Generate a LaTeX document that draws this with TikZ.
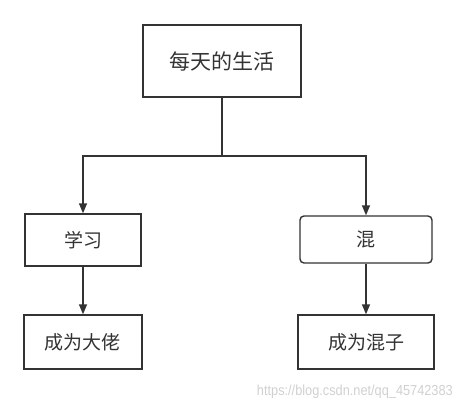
\documentclass[tikz,border=0pt]{standalone}
\usepackage{fontspec}
\setmainfont{Liberation Sans}
\newfontfamily\cjk{Noto Sans CJK SC}
\usetikzlibrary{arrows.meta}
\definecolor{ln}{HTML}{333333}
\definecolor{wm}{HTML}{D0D0D0}
\tikzset{
  box/.style={draw=ln, line width=1.4pt, fill=white, inner sep=0pt, font=\cjk\fontsize{19}{19}\selectfont, text=ln},
  conn/.style={draw=ln, line width=1.4pt},
  arr/.style={conn, -{Triangle[length=10pt,width=8pt]}},
}
\begin{document}
\begin{tikzpicture}[x=1pt,y=-1pt]
\useasboundingbox (0,0) rectangle (464,407);
\node[box, minimum width=158pt, minimum height=72pt, font=\cjk\fontsize{21}{21}\selectfont] (top) at (222,61) {每天的生活};
\node[box, minimum width=116pt, minimum height=52pt] (xue) at (83,240) {学习};
\node[box, minimum width=118pt, minimum height=54pt] (dalao) at (83,342) {成为大佬};
\node[box, rounded corners=4pt, minimum width=132pt, minimum height=47pt] (hun) at (366,239.5) {混};
\node[box, minimum width=136pt, minimum height=54pt] (hunzi) at (366,342) {成为混子};
\coordinate (j) at (222,156);
\draw[conn] (top.south) -- (j);
\draw[arr] (j) -| (xue.north);
\draw[arr] (j) -| (hun.north);
\draw[arr] (xue.south) -- (dalao.north);
\draw[arr] (hun.south) -- (hunzi.north);
\node[anchor=base east, text=wm, font=\fontsize{14.5}{14.5}\selectfont, inner sep=0pt] (wmk) at (453,395) {\scalebox{0.88}[1]{https://blog.csdn.net/qq\_45742383}};
\end{tikzpicture}
\end{document}
